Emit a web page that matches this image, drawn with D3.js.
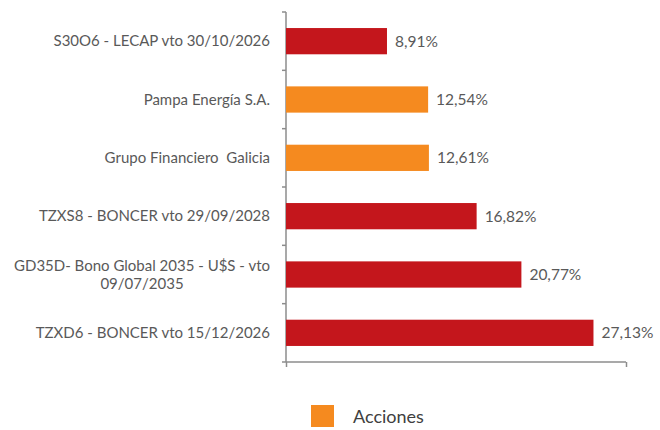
<!DOCTYPE html>
<html>
<head>
  <meta charset="utf-8">
  <script src="https://d3js.org/d3.v7.min.js"></script>
  <style>
    body { margin: 0; background: #fff; overflow: hidden; }
    svg { display: block; font-family: Lato, "Open Sans", sans-serif; }
    .axis path, .axis line { stroke: #8c8c8c; stroke-width: 1.5; }
    .cat { fill: #595959; font-size: 15px; white-space: pre; }
    .val { fill: #595959; font-size: 15.5px; }
    .legend-text { fill: #404040; font-size: 18px; }
  </style>
</head>
<body>
  <div id="chart"></div>
  <script>
    // Data
    const categories = [
      "S30O6 - LECAP vto 30/10/2026",
      "Pampa Energía S.A.",
      "Grupo Financiero  Galicia",
      "TZXS8 - BONCER vto 29/09/2028",
      "GD35D- Bono Global 2035 - U$S - vto\n09/07/2035",
      "TZXD6 - BONCER vto 15/12/2026"
    ];
    const values = [8.91, 12.54, 12.61, 16.82, 20.77, 27.13];
    const types = ["Bonos", "Acciones", "Acciones", "Bonos", "Bonos", "Bonos"];
    const legendItems = ["Acciones"];

    const width = 660, height = 430;
    const margin = { top: 12, right: 34, bottom: 68, left: 286 };
    const innerWidth = width - margin.left - margin.right;
    const innerHeight = height - margin.top - margin.bottom;

    const color = d3.scaleOrdinal()
      .domain(["Bonos", "Acciones"])
      .range(["#c4161c", "#f58a1f"]);

    const data = categories.map((c, i) => ({ cat: c, value: values[i], type: types[i] }));

    const svg = d3.select("#chart").append("svg")
      .attr("width", width)
      .attr("height", height);

    // scales in page coordinates
    const x = d3.scaleLinear().domain([0, 30]).range([margin.left, width - margin.right]);
    const y = d3.scaleBand()
      .domain(categories)
      .range([margin.top, height - margin.bottom])
      .paddingInner(0.55)
      .paddingOuter(0.275);

    // y axis: ticks at band boundaries, pointing left
    const step = innerHeight / categories.length;
    const boundaries = d3.range(categories.length + 1).map(i => margin.top + i * step);
    const yAxis = svg.append("g").attr("class", "axis");
    yAxis.append("line")
      .attr("x1", x(0)).attr("x2", x(0))
      .attr("y1", margin.top).attr("y2", height - margin.bottom);
    yAxis.selectAll(".tick")
      .data(boundaries)
      .enter().append("line")
        .attr("x1", x(0) - 4).attr("x2", x(0))
        .attr("y1", d => d).attr("y2", d => d);

    // x axis: only the end ticks, no labels
    svg.append("g")
      .attr("class", "axis")
      .attr("transform", `translate(0,${height - margin.bottom})`)
      .call(d3.axisBottom(x).tickValues([0, 30]).tickSize(5).tickSizeOuter(0).tickFormat(""))
      .call(sel => sel.select(".domain").attr("d", `M${x(0)},0H${x(30)}`));

    // bars
    svg.selectAll(".bar")
      .data(data)
      .enter().append("rect")
        .attr("class", "bar")
        .attr("x", x(0))
        .attr("y", d => y(d.cat))
        .attr("width", d => x(d.value) - x(0))
        .attr("height", y.bandwidth())
        .attr("fill", d => color(d.type));

    // value labels
    svg.selectAll(".val")
      .data(data)
      .enter().append("text")
        .attr("class", "val")
        .attr("x", d => x(d.value) + 8)
        .attr("y", d => y(d.cat) + y.bandwidth() / 2)
        .attr("dy", "0.35em")
        .text(d => d3.format(".2f")(d.value).replace(".", ",") + "%");

    // category labels (multi-line ones are centered within a right-aligned block)
    const lineH = 18;
    const labelRight = x(0) - 16;
    categories.forEach(c => {
      const lines = c.split("\n");
      const cy = y(c) + y.bandwidth() / 2;
      if (lines.length === 1) {
        svg.append("text")
          .attr("class", "cat")
          .attr("text-anchor", "end")
          .attr("x", labelRight)
          .attr("y", cy)
          .attr("dy", "0.35em")
          .text(c);
        return;
      }
      // measure the widest line first
      const probe = svg.append("text").attr("class", "cat").text(d3.greatest(lines, l => l.length));
      const w = probe.node().getComputedTextLength();
      probe.remove();
      const cx = labelRight - w / 2;
      lines.forEach((l, i) => {
        svg.append("text")
          .attr("class", "cat")
          .attr("text-anchor", "middle")
          .attr("x", cx)
          .attr("y", cy + (i - (lines.length - 1) / 2) * lineH)
          .attr("dy", "0.35em")
          .text(l);
      });
    });

    // legend
    const legend = svg.append("g").attr("transform", "translate(311,405)");
    legendItems.forEach((k, i) => {
      legend.append("rect")
        .attr("width", 23).attr("height", 22)
        .attr("fill", color(k));
      legend.append("text")
        .attr("class", "legend-text")
        .attr("x", 42)
        .attr("y", 18)
        .text(k);
    });
  </script>
</body>
</html>
